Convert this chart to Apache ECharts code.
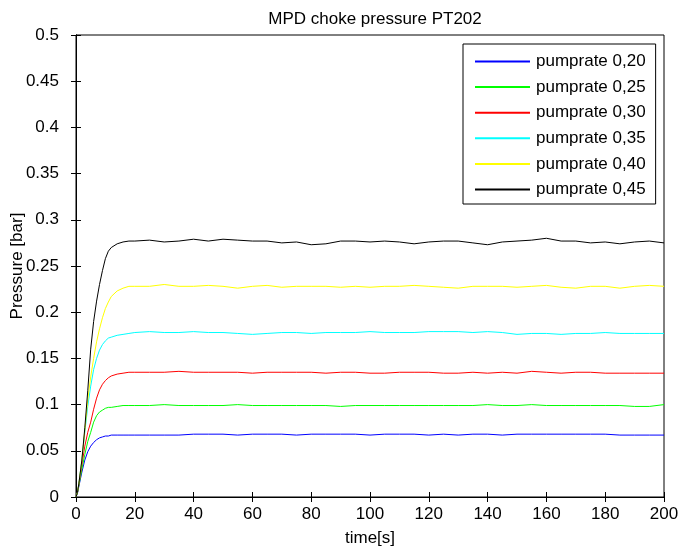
<!DOCTYPE html>
<html>
<head>
<meta charset="utf-8">
<script src="https://cdn.jsdelivr.net/npm/echarts@6/dist/echarts.min.js"></script>
<style>
  html, body { margin: 0; padding: 0; background: #fff; }
  #chart { width: 679px; height: 548px; }
</style>
</head>
<body>
<div id="chart"></div>
<script>
// time axis [s]
var time = [0, 0.5, 1, 2, 3, 4, 5, 6, 7, 8, 9, 10, 11, 12, 14, 16, 18, 20,
  25, 30, 35, 40, 45, 50, 55, 60, 65, 70, 75, 80, 85, 90, 95, 100,
  105, 110, 115, 120, 125, 130, 135, 140, 145, 150, 155, 160, 165, 170, 175, 180,
  185, 190, 195, 200];

var seriesNames = ['pumprate 0,20', 'pumprate 0,25', 'pumprate 0,30',
  'pumprate 0,35', 'pumprate 0,40', 'pumprate 0,45'];
var seriesColors = ['#0000ff', '#00ff00', '#ff0000', '#00ffff', '#ffff00', '#000000'];

// pressure [bar]
var p020 = [0, 0.004, 0.012, 0.027, 0.040, 0.049, 0.055, 0.059, 0.062, 0.064, 0.065, 0.066, 0.066, 0.067, 0.067, 0.067, 0.067, 0.067,
  0.067, 0.067, 0.067, 0.068, 0.068, 0.068, 0.067, 0.068, 0.068, 0.068, 0.067, 0.068, 0.068, 0.068, 0.068, 0.067,
  0.068, 0.068, 0.068, 0.067, 0.068, 0.067, 0.068, 0.068, 0.067, 0.068, 0.068, 0.068, 0.068, 0.068, 0.068, 0.068,
  0.067, 0.067, 0.067, 0.067];
var p025 = [0, 0.005, 0.013, 0.030, 0.046, 0.060, 0.070, 0.081, 0.088, 0.092, 0.094, 0.096, 0.097, 0.097, 0.098, 0.099, 0.099, 0.099,
  0.099, 0.100, 0.099, 0.099, 0.099, 0.099, 0.100, 0.099, 0.099, 0.099, 0.099, 0.099, 0.099, 0.098, 0.099, 0.099,
  0.099, 0.099, 0.099, 0.099, 0.099, 0.099, 0.099, 0.100, 0.099, 0.099, 0.100, 0.099, 0.099, 0.099, 0.099, 0.099,
  0.099, 0.098, 0.098, 0.100];
var p030 = [0, 0.005, 0.014, 0.035, 0.055, 0.070, 0.081, 0.095, 0.107, 0.116, 0.122, 0.126, 0.129, 0.131, 0.133, 0.134, 0.135, 0.135,
  0.135, 0.135, 0.136, 0.135, 0.135, 0.135, 0.135, 0.134, 0.135, 0.135, 0.135, 0.135, 0.134, 0.135, 0.135, 0.134,
  0.134, 0.135, 0.135, 0.135, 0.134, 0.134, 0.135, 0.134, 0.135, 0.134, 0.136, 0.135, 0.134, 0.135, 0.135, 0.134,
  0.134, 0.134, 0.134, 0.134];
var p035 = [0, 0.005, 0.015, 0.040, 0.070, 0.098, 0.120, 0.138, 0.150, 0.159, 0.165, 0.169, 0.172, 0.173, 0.175, 0.176, 0.177, 0.178,
  0.179, 0.178, 0.178, 0.179, 0.178, 0.178, 0.177, 0.176, 0.177, 0.178, 0.178, 0.177, 0.178, 0.178, 0.178, 0.179,
  0.178, 0.178, 0.178, 0.179, 0.179, 0.179, 0.178, 0.179, 0.178, 0.176, 0.177, 0.177, 0.176, 0.177, 0.177, 0.178,
  0.177, 0.177, 0.177, 0.177];
var p040 = [0, 0.005, 0.015, 0.040, 0.072, 0.105, 0.130, 0.150, 0.168, 0.182, 0.194, 0.204, 0.211, 0.217, 0.223, 0.226, 0.228, 0.228,
  0.228, 0.230, 0.228, 0.228, 0.229, 0.228, 0.226, 0.228, 0.229, 0.227, 0.228, 0.228, 0.228, 0.227, 0.228, 0.227,
  0.228, 0.228, 0.229, 0.228, 0.227, 0.226, 0.228, 0.228, 0.228, 0.227, 0.228, 0.229, 0.227, 0.226, 0.228, 0.228,
  0.226, 0.228, 0.229, 0.228];
var p045 = [0, 0.005, 0.015, 0.040, 0.075, 0.115, 0.160, 0.190, 0.212, 0.230, 0.245, 0.258, 0.266, 0.270, 0.274, 0.276, 0.277, 0.277,
  0.278, 0.276, 0.277, 0.279, 0.277, 0.279, 0.278, 0.277, 0.277, 0.275, 0.276, 0.273, 0.274, 0.277, 0.277, 0.276,
  0.277, 0.276, 0.274, 0.276, 0.277, 0.277, 0.275, 0.273, 0.276, 0.277, 0.278, 0.280, 0.277, 0.277, 0.275, 0.276,
  0.274, 0.276, 0.277, 0.275];

var pressure = [p020, p025, p030, p035, p040, p045];

var font = 'Liberation Sans, Arial, sans-serif';

function pairs(ys) {
  return time.map(function (t, i) { return [t, ys[i]]; });
}

var series = seriesNames.map(function (name, k) {
  return {
    name: name,
    type: 'line',
    data: pairs(pressure[k]),
    symbol: 'none',
    color: seriesColors[k],
    lineStyle: { color: seriesColors[k], width: 1 },
    itemStyle: { color: seriesColors[k] },
    emphasis: { disabled: true },
    animation: false
  };
});

var chart = echarts.init(document.getElementById('chart'));
chart.setOption({
  backgroundColor: '#fff',
  animation: false,
  color: seriesColors,
  title: {
    text: 'MPD choke pressure PT202',
    left: 370,
    textAlign: 'center',
    top: 6,
    textStyle: { fontFamily: font, fontSize: 17, fontWeight: 'normal', color: '#000' }
  },
  grid: {
    left: 76, right: 15, top: 35, bottom: 51,
    outerBoundsMode: 'none', containLabel: false,
    show: true, borderColor: '#000', borderWidth: 1
  },
  legend: {
    orient: 'vertical',
    left: 463,
    top: 44,
    padding: [9, 10, 6, 12],
    itemGap: 8.6,
    itemWidth: 55,
    itemHeight: 2,
    icon: 'path://M0,0 L55,0 L55,2 L0,2 Z',
    backgroundColor: '#fff',
    borderColor: '#000',
    borderWidth: 1,
    borderRadius: 0,
    textStyle: { fontFamily: font, fontSize: 17, color: '#000', padding: [0, 0, 0, 1] },
    data: seriesNames
  },
  xAxis: [{
    type: 'value',
    min: 0, max: 200, interval: 20,
    name: 'time[s]',
    nameLocation: 'middle',
    nameGap: 33,
    nameTextStyle: { fontFamily: font, fontSize: 17, color: '#000' },
    axisLine: { lineStyle: { color: '#000' } },
    axisTick: { inside: true, length: 5, lineStyle: { color: '#000' } },
    axisLabel: { fontFamily: font, fontSize: 17, color: '#000', margin: 9 },
    splitLine: { show: false }
  }, {
    type: 'value', position: 'top',
    min: 0, max: 200, interval: 20,
    axisLine: { lineStyle: { color: '#000' } },
    axisTick: { inside: true, length: 5, lineStyle: { color: '#000' } },
    axisLabel: { show: false },
    splitLine: { show: false }
  }],
  yAxis: [{
    type: 'value',
    min: 0, max: 0.5, interval: 0.05,
    name: 'Pressure [bar]',
    nameLocation: 'middle',
    nameGap: 50,
    nameMoveOverlap: false,
    nameTextStyle: { fontFamily: font, fontSize: 17, color: '#000' },
    axisLine: { show: true, lineStyle: { color: '#000' } },
    axisTick: { show: true, inside: true, length: 5, lineStyle: { color: '#000' } },
    axisLabel: {
      fontFamily: font, fontSize: 17, color: '#000', margin: 17,
      formatter: function (v) { return String(Math.round(v * 100) / 100); }
    },
    splitLine: { show: false }
  }, {
    type: 'value', position: 'right',
    min: 0, max: 0.5, interval: 0.05,
    axisLine: { show: true, lineStyle: { color: '#000' } },
    axisTick: { show: true, inside: true, length: 5, lineStyle: { color: '#000' } },
    axisLabel: { show: false },
    splitLine: { show: false }
  }],
  series: series
});
</script>
</body>
</html>
